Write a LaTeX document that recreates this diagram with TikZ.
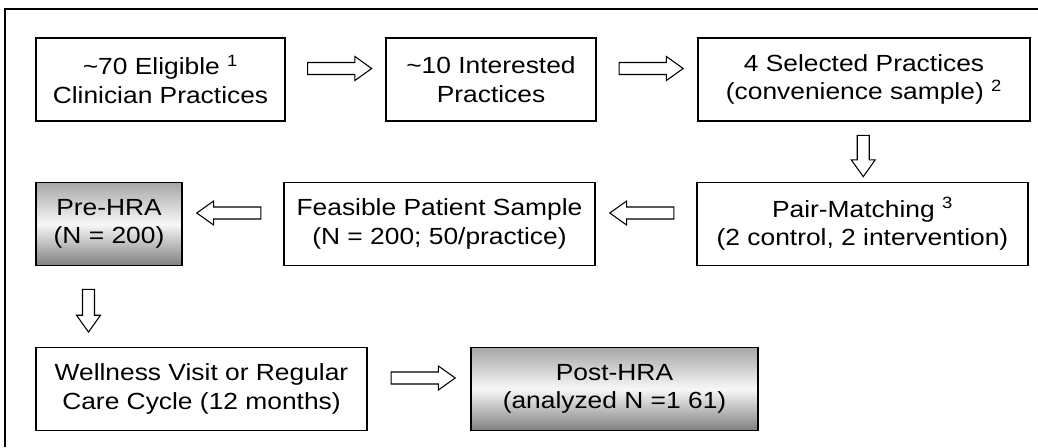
\documentclass[tikz,border=0pt]{standalone}
\usepackage{fontspec}
\setmainfont{Liberation Sans}[FakeStretch=1.13]
\usetikzlibrary{positioning,calc,shapes.arrows}

\begin{document}
\begin{tikzpicture}[x=0.75pt, y=-0.75pt,
  box/.style={draw, line width=1.1pt, align=center, inner sep=0pt,
    minimum height=62.5pt, font={\fontsize{17.5}{21.5}\selectfont}},
  hra/.style={box, top color=black!35, bottom color=black!50, middle color=black!3},
  bigarrow/.style={single arrow, draw, line width=0.8pt, fill=white,
    minimum height=48pt, inner sep=4.1pt,
    single arrow head extend=4.5pt, single arrow tip angle=71}]
  \useasboundingbox (0,0) rectangle (1038,447);
  % Frame (cut off on the right and bottom)
  \draw[line width=1.1pt] (1038,9) -- (5,9) -- (5,447);
  % Recruitment row
  \node[box, minimum width=186.75pt] (b1) at (160.5,79.5)
    {\textasciitilde70 Eligible \textsuperscript{1}\\Clinician Practices};
  \node[box, minimum width=157.5pt] (b2) at (491,79.5)
    {\textasciitilde10 Interested\\Practices};
  \node[box, minimum width=249pt] (b3) at (864,79.5)
    {4 Selected Practices\\(convenience sample) \textsuperscript{2}};
  % Sampling row
  \node[hra, minimum width=109.5pt] (pre) at (109,224)
    {Pre-HRA\\(N = 200)};
  \node[box, minimum width=233.25pt] (feas) at (439.5,224)
    {Feasible Patient Sample\\(N = 200; 50/practice)};
  \node[box, minimum width=248.25pt] (pair) at (862.5,224)
    {Pair-Matching \textsuperscript{3}\\(2 control, 2 intervention)};
  % Follow-up row
  \node[box, minimum width=248.25pt] (well) at (201.5,389)
    {Wellness Visit or Regular\\Care Cycle (12 months)};
  \node[hra, minimum width=215.25pt] (post) at (614.5,389)
    {Post-HRA\\(analyzed N =1 61)};
  % Block arrows between boxes
  \foreach \from/\to/\dir [count=\k] in {b1.east/b2.west/0, b2.east/b3.west/0,
      pair.west/feas.east/180, feas.west/pre.east/180, well.east/post.west/0} {
    \node[bigarrow, rotate=\dir] (arr\k) at ($(\from)!0.5!(\to)+(0,-11)$) {};
  }
  \node[bigarrow, rotate=-90, minimum height=31pt] (arr6)
    at ($(b3.south)!0.5!(pair.north)$) {};
  \node[bigarrow, rotate=-90, minimum height=32pt] (arr7)
    at ($(pre.south)!0.5!(pre.south|-well.north)+(-20.5,0)$) {};
\end{tikzpicture}
\end{document}
